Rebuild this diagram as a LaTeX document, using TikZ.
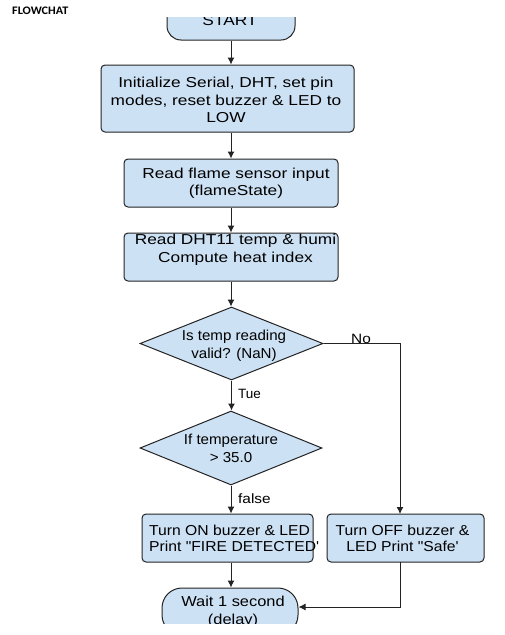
\documentclass[tikz,border=0pt]{standalone}
\usepackage{fontspec}
\newfontfamily\fTop{Liberation Sans}[FakeStretch=1.2]
\newfontfamily\fDec{Liberation Sans}[FakeStretch=1.05]
\newfontfamily\fAct{Liberation Sans}[FakeStretch=1.09]
\newfontfamily\fWait{Liberation Sans}[FakeStretch=1.14]
\newfontfamily\fPlain{Liberation Sans}
\newfontfamily\titlefont{Carlito}[FakeStretch=1.06]
\usetikzlibrary{shapes.geometric,arrows.meta,calc}
\definecolor{boxfill}{RGB}{205,225,244}
\definecolor{edgecol}{RGB}{35,35,35}
\begin{document}
\begin{tikzpicture}[x=1pt,y=-1pt,
  procbox/.style={rectangle, draw=edgecol, fill=boxfill, line width=1pt, rounded corners=4pt, inner sep=0pt},
  termbox/.style={procbox, rounded corners=#1},
  decbox/.style={diamond, draw=edgecol, fill=boxfill, line width=1pt, inner sep=0pt},
  txt/.style={font=\fTop\fontsize{14.4pt}{17.5pt}\selectfont, align=center, inner sep=0pt},
  dtxt/.style={txt, font=\fDec\fontsize{14.4pt}{17.5pt}\selectfont},
  atxt/.style={txt, font=\fAct\fontsize{14.4pt}{16.7pt}\selectfont},
  wtxt/.style={txt, font=\fWait\fontsize{14.4pt}{17.5pt}\selectfont},
  lbl/.style={inner sep=0pt, anchor=west},
  flow/.style={draw=edgecol, line width=1pt, -{Latex[length=7pt,width=7pt]}}]
\useasboundingbox (0,0) rectangle (505,635);
\node[font=\titlefont\bfseries\fontsize{11.5pt}{13pt}\selectfont, anchor=west, inner sep=0pt] (title) at (12,10.5) {FLOWCHAT};
\begin{scope}
\clip (0,17) rectangle (505,623);
% boxes
\node[termbox=14pt, minimum width=128pt, minimum height=38pt] (start) at (231,21) {};
\node[procbox, minimum width=253pt, minimum height=67pt] (init) at (227.5,98.5) {};
\node[procbox, minimum width=214pt, minimum height=48pt] (flame) at (231,183) {};
\node[procbox, minimum width=214pt, minimum height=48pt] (dht) at (231,257) {};
\node[decbox, minimum width=183pt, minimum height=73pt] (d1) at (231.5,343.5) {};
\node[decbox, minimum width=182pt, minimum height=74pt] (d2) at (231,448) {};
\node[procbox, minimum width=171pt, minimum height=48pt] (on) at (227.5,538) {};
\node[procbox, minimum width=157pt, minimum height=48pt] (off) at (405.5,538) {};
\node[termbox=20pt, minimum width=136pt, minimum height=47pt] (wait) at (230,611.5) {};
% texts
\node[txt] (startT) at (230,21) {START};
\node[txt] (initT) at (226,100.3) {Initialize Serial, DHT, set pin\\modes, reset buzzer \& LED to\\LOW};
\node[txt] (flameT) at (236,183.2) {Read flame sensor input\\(flameState)};
\node[txt] (dhtT) at (235.5,249.8) {Read DHT11 temp \& humi\\Compute heat index};
\node[dtxt] (d1T) at (234,346) {Is temp reading\\valid? (NaN)};
\node[dtxt] (d2T) at (231,448.5) {If temperature\\> 35.0};
\node[atxt, align=left, anchor=west] (onT) at (149,538.4) {Turn ON buzzer \& LED\\Print "FIRE DETECTED'};
\node[atxt] (offT) at (402.5,538.4) {Turn OFF buzzer \&\\LED Print "Safe'};
\node[wtxt] (waitT) at (233,612) {Wait 1 second\\(delay)};
% labels
\node[lbl, font=\fWait\fontsize{13.5pt}{15pt}\selectfont] (noL) at (351,338.7) {No};
\node[lbl, font=\fPlain\fontsize{13.5pt}{15pt}\selectfont] (tueL) at (238,393.5) {Tue};
\node[lbl, font=\fWait\fontsize{13.5pt}{15pt}\selectfont] (falseL) at (238,499) {false};
% connectors
\coordinate (offin) at (400,514);
\coordinate (offout) at (400,562);
\coordinate (waitin) at ($(wait.east)+(0,-4.5)$);
\draw[flow] (start) -- (start |- init.north);
\draw[flow] (init.south -| flame.north) -- (flame.north);
\draw[flow] (flame) -- (dht);
\draw[flow] (dht.south) -- (dht.south |- d1.north);
\draw[flow] (d1.south) -- (d1.south |- d2.north);
\draw[flow] (d1.east) -| (offin);
\draw[flow] (d2.south) -- (d2.south |- on.north);
\draw[flow] (on.south -| d2.south) -- (wait.north -| d2.south);
\draw[flow] (offout) |- (waitin);
\end{scope}
\end{tikzpicture}
\end{document}
